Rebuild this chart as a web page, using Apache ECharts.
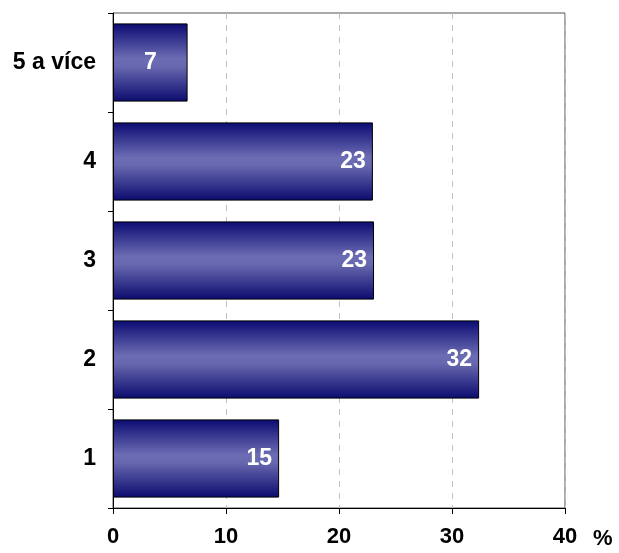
<!DOCTYPE html>
<html>
<head>
<meta charset="utf-8">
<script src="https://cdn.jsdelivr.net/npm/echarts@6/dist/echarts.min.js"></script>
<style>
  html, body { margin: 0; padding: 0; background: #fff; }
  #chart { width: 619px; height: 553px; }
</style>
</head>
<body>
<div id="chart"></div>
<script>
const categories = ["1", "2", "3", "4", "5 a více"];
const values = [14.7, 32.4, 23.1, 23.0, 6.6];
const xTicks = [0, 10, 20, 30, 40];

const chart = echarts.init(document.getElementById("chart"));

const barFill = new echarts.graphic.LinearGradient(0, 0, 0, 1, [
  { offset: 0, color: "#0b0b72" },
  { offset: 0.45, color: "#6c6cb4" },
  { offset: 0.55, color: "#6868b0" },
  { offset: 1, color: "#0b0b6e" },
]);

const font = "'Liberation Sans', Arial, sans-serif";

// short bars get their label centred, like the original
const barData = values.map((v) => (v < 10 ? { value: v, label: { position: "inside" } } : v));

chart.setOption({
  animation: false,
  grid: {
    left: 113, right: 54, top: 13, bottom: 45,
    show: true, borderColor: "#555", borderWidth: 1,
  },
  xAxis: {
    type: "value",
    min: xTicks[0],
    max: xTicks[xTicks.length - 1],
    interval: 10,
    name: "%",
    nameLocation: "end",
    nameGap: 28,
    nameTextStyle: { color: "#000", fontSize: 22, fontWeight: "bold", fontFamily: font, verticalAlign: "top", padding: [20, 0, 0, 0] },
    axisLine: { show: true, lineStyle: { color: "#000", width: 1 } },
    axisTick: { show: true, length: 6, lineStyle: { color: "#000" } },
    axisLabel: { color: "#000", fontSize: 22, fontWeight: "bold", fontFamily: font, margin: 18 },
    splitLine: { show: true, lineStyle: { color: "#c0c0c0", type: [6, 6], width: 1 } },
  },
  yAxis: {
    type: "category",
    data: categories,
    axisLine: { show: true, lineStyle: { color: "#000", width: 1 } },
    axisTick: { show: true, length: 5, lineStyle: { color: "#000" } },
    axisLabel: { color: "#000", fontSize: 23, fontWeight: "bold", fontFamily: font, margin: 17 },
    splitLine: { show: false },
  },
  series: [
    {
      type: "bar",
      data: barData,
      barCategoryGap: "21%",
      itemStyle: { color: barFill, borderColor: "#000", borderWidth: 1 },
      label: {
        show: true,
        position: "insideRight",
        distance: 7,
        color: "#fff",
        fontSize: 23,
        fontWeight: "bold",
        fontFamily: font,
        formatter: (p) => Math.round(p.value),
      },
    },
  ],
});
</script>
</body>
</html>
